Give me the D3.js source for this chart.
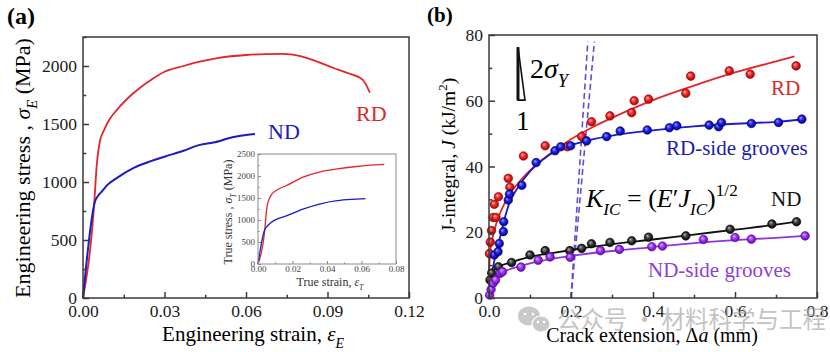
<!DOCTYPE html>
<html>
<head>
<meta charset="utf-8">
<script src="https://cdn.jsdelivr.net/npm/d3@7"></script>
<style>
  html, body { margin:0; padding:0; background:#fff; }
  svg { display:block; font-family:"Liberation Serif","Times New Roman",serif; }
</style>
</head>
<body>
<svg id="chart" width="830" height="352"></svg>
<script>
/* ---------- panel (a): engineering curves ------------------- */
const engStrainRD = [0, 0.0042, 0.005, 0.0063, 0.0075, 0.0095, 0.0124, 0.0185, 0.025, 0.03, 0.037, 0.043, 0.05, 0.06, 0.067, 0.0736, 0.08, 0.086, 0.092, 0.098, 0.103, 0.1056];
const engStressRD = [0, 840, 1130, 1360, 1434, 1530, 1620, 1765, 1880, 1950, 2000, 2037, 2070, 2095, 2103, 2105, 2085, 2040, 1985, 1935, 1880, 1770];
const engStrainND = [0, 0.0044, 0.0055, 0.0068, 0.009, 0.0124, 0.0185, 0.025, 0.03, 0.037, 0.043, 0.048, 0.055, 0.06, 0.0633];
const engStressND = [0, 830, 880, 915, 975, 1034, 1120, 1180, 1218, 1270, 1320, 1340, 1385, 1405, 1413];

/* inset: true curves */
const trueStrainRD = [0, 0.004, 0.0045, 0.0052, 0.0062, 0.0078, 0.011, 0.0168, 0.0265, 0.0362, 0.046, 0.0557, 0.065, 0.0732];
const trueStressRD = [0, 800, 1050, 1300, 1450, 1580, 1680, 1790, 1980, 2095, 2160, 2210, 2245, 2263];
const trueStrainND = [0, 0.004, 0.0049, 0.0078, 0.0168, 0.0265, 0.0362, 0.046, 0.055, 0.0623];
const trueStressND = [0, 790, 840, 950, 1100, 1254, 1369, 1440, 1470, 1484];

const engStrainTicks = [0, 0.03, 0.06, 0.09, 0.12];
const engStressTicks = [0, 500, 1000, 1500, 2000];
const trueStrainTicks = [0, 0.02, 0.04, 0.06, 0.08];
const trueStressTicks = [0, 500, 1000, 1500, 2000, 2500];

/* ---------- panel (b): J-R curves --------------------------- */
const rdDa = [0.001, 0.003, 0.006, 0.01, 0.013, 0.017, 0.023, 0.047, 0.051, 0.084, 0.137, 0.191, 0.226, 0.25, 0.295, 0.348, 0.354, 0.389, 0.48, 0.492, 0.586, 0.637, 0.749];
const rdJ  = [13.5, 17, 20.5, 24.5, 28.5, 24.5, 30.8, 36.4, 33.7, 43.2, 46.3, 46.0, 49.1, 53.6, 55.4, 56.4, 60.0, 60.5, 62.3, 67.5, 69.1, 68.1, 70.6];
const rdFitDa = [0, 0.003, 0.01, 0.02, 0.035, 0.05, 0.075, 0.1, 0.15, 0.2, 0.25, 0.3, 0.4, 0.5, 0.6, 0.7, 0.745];
const rdFitJ  = [8, 14, 19, 23.5, 28, 31.5, 35.5, 38.8, 44, 48.3, 51.8, 54.8, 60.2, 64.6, 68.6, 72, 73.5];

const rgDa = [0.013, 0.022, 0.025, 0.035, 0.036, 0.047, 0.05, 0.08, 0.115, 0.161, 0.175, 0.199, 0.238, 0.287, 0.32, 0.386, 0.44, 0.458, 0.537, 0.56, 0.567, 0.64, 0.706, 0.763];
const rgJ  = [13.1, 14.1, 16.6, 20.2, 23.2, 29.8, 31.6, 34.3, 41.2, 44.8, 46, 46.3, 47.8, 49.1, 50.8, 51.1, 51.8, 52.4, 52.6, 52.1, 53.4, 53.1, 53.4, 54.4];
const rgFitDa = [0, 0.005, 0.01, 0.02, 0.03, 0.04, 0.05, 0.07, 0.1, 0.13, 0.16, 0.2, 0.25, 0.3, 0.4, 0.5, 0.6, 0.7, 0.763];
const rgFitJ  = [2, 6, 9.5, 15, 20, 25, 29, 33.5, 38.5, 42, 44.5, 46.5, 48.2, 49.4, 51, 52.2, 53, 53.6, 54.3];

const ndDa = [0.0024, 0.0065, 0.023, 0.055, 0.1, 0.137, 0.197, 0.226, 0.25, 0.295, 0.348, 0.389, 0.48, 0.588, 0.69, 0.75];
const ndJ  = [5.5, 7.6, 9.5, 10.8, 13.1, 14.4, 14.4, 15.1, 16.5, 16.9, 17.4, 18.5, 18.9, 20.9, 22.5, 23.2];
const ndFitDa = [0, 0.005, 0.02, 0.05, 0.1, 0.15, 0.2, 0.3, 0.4, 0.5, 0.6, 0.7, 0.75];
const ndFitJ  = [4, 7.5, 9.3, 10.7, 12.5, 13.6, 14.6, 16.4, 17.8, 19.3, 20.8, 22.3, 23.2];

const nsDa = [0.0015, 0.005, 0.01, 0.016, 0.027, 0.033, 0.078, 0.12, 0.149, 0.198, 0.272, 0.318, 0.397, 0.423, 0.523, 0.60, 0.64, 0.771];
const nsJ  = [0.9, 2.6, 4.5, 5.5, 7.5, 8, 9.4, 11.5, 12.5, 12.4, 14.4, 14.8, 15.6, 15.8, 17.8, 18.4, 17.9, 18.9];
const nsFitDa = [0, 0.005, 0.01, 0.02, 0.04, 0.07, 0.1, 0.15, 0.2, 0.3, 0.4, 0.5, 0.6, 0.7, 0.771];
const nsFitJ  = [0.5, 3, 4.8, 6.6, 8.2, 9.5, 10.5, 11.8, 12.8, 14.3, 15.5, 16.7, 17.6, 18.3, 18.9];

/* blunting lines (two slopes, common offset 0.2 mm) */
const bluntDa1 = [0.2, 0.241], bluntJ1 = [0, 78];
const bluntDa2 = [0.2, 0.257], bluntJ2 = [0, 78];

const daTicks = [0, 0.2, 0.4, 0.6, 0.8];
const jTicks  = [0, 20, 40, 60, 80];

/* ---------- helpers ----------------------------------------- */
const svg = d3.select("#chart");
const zip = (xs, ys) => xs.map((x, i) => [x, ys[i]]);

// text with italic / sub / sup runs
function rich(textSel, parts, size) {
  let shift = 0;
  parts.forEach(p => {
    const target = p.sub ? size*0.32 : p.sup ? -size*0.42 : 0;
    textSel.append("tspan")
      .attr("dy", target - shift)
      .attr("font-size", (p.sub || p.sup) ? size*0.66 : size)
      .attr("font-style", p.it ? "italic" : null)
      .text(p.t);
    shift = target;
  });
  return textSel;
}

function frameAxes(g, x, y, o) {
  const [x0, x1] = x.range(), [y0, y1] = y.range();
  g.append("g").attr("transform", `translate(0,${y0})`)
    .call(d3.axisBottom(x).tickValues(o.xTicks).tickSize(-o.tick).tickPadding(o.padX).tickFormat(o.xFmt))
    .attr("font-size", o.fs).attr("font-family", null);
  g.append("g").attr("transform", `translate(${x0},0)`)
    .call(d3.axisLeft(y).tickValues(o.yTicks).tickSize(-o.tick).tickPadding(o.padY).tickFormat(o.yFmt))
    .attr("font-size", o.fs).attr("font-family", null);
  // minor ticks
  g.append("g").attr("transform", `translate(0,${y0})`)
    .call(d3.axisBottom(x).tickValues(o.xMinor).tickSize(-o.tick*0.55).tickFormat(""));
  g.append("g").attr("transform", `translate(${x0},0)`)
    .call(d3.axisLeft(y).tickValues(o.yMinor).tickSize(-o.tick*0.55).tickFormat(""));
  g.selectAll(".domain").remove();
  g.selectAll(".tick line").attr("stroke", o.col).attr("stroke-width", o.sw);
  g.selectAll(".tick text").attr("fill", o.txt || "#1a1a1a");
  g.append("rect")
    .attr("x", x0).attr("y", y1).attr("width", x1 - x0).attr("height", y0 - y1)
    .attr("fill", "none").attr("stroke", o.col).attr("stroke-width", o.sw);
}

/* ---------- panel (a) --------------------------------------- */
const gA = svg.append("g");
const xA = d3.scaleLinear([0, 0.12], [83, 409]);
const yA = d3.scaleLinear([0, 2250], [298, 37]);

const lineA = d3.line().x(d => xA(d[0])).y(d => yA(d[1])).curve(d3.curveMonotoneX);
gA.append("path").datum(zip(engStrainRD, engStressRD)).attr("d", lineA)
  .attr("fill", "none").attr("stroke", "#e3262b").attr("stroke-width", 1.8);
gA.append("path").datum(zip(engStrainND, engStressND)).attr("d", lineA)
  .attr("fill", "none").attr("stroke", "#1b1bbf").attr("stroke-width", 2);

frameAxes(gA, xA, yA, {
  xTicks: engStrainTicks, yTicks: engStressTicks,
  xMinor: [0.015, 0.045, 0.075, 0.105], yMinor: [250, 750, 1250, 1750, 2250],
  xFmt: d3.format(".2f"), yFmt: d3.format("d"),
  fs: 17.5, tick: 6, padX: 7, padY: 6, col: "#3a3a3a", sw: 1.5
});

gA.append("text").attr("x", 7).attr("y", 24)
  .attr("font-size", 24).attr("font-weight", "bold").text("(a)");

rich(gA.append("text").attr("x", 253).attr("y", 341).attr("text-anchor", "middle"),
  [{t:"Engineering strain, "}, {t:"ε", it:true}, {t:"E", it:true, sub:true}], 21);

rich(gA.append("text").attr("transform", "translate(30,168) rotate(-90)").attr("text-anchor", "middle"),
  [{t:"Engineering stress , "}, {t:"σ", it:true}, {t:"E", it:true, sub:true}, {t:" (MPa)"}], 22);

gA.append("text").attr("x", 356).attr("y", 121).attr("font-size", 22).attr("fill", "#d92a2a").text("RD");
gA.append("text").attr("x", 268).attr("y", 139).attr("font-size", 22).attr("fill", "#1b1bbf").text("ND");

/* inset */
const gI = svg.append("g");
const xI = d3.scaleLinear([0, 0.08], [258, 396]);
const yI = d3.scaleLinear([0, 2500], [264, 154]);
gI.append("rect").attr("x", 258).attr("y", 154).attr("width", 138).attr("height", 110).attr("fill", "#fff");
const lineI = d3.line().x(d => xI(d[0])).y(d => yI(d[1])).curve(d3.curveMonotoneX);
gI.append("path").datum(zip(trueStrainRD, trueStressRD)).attr("d", lineI)
  .attr("fill", "none").attr("stroke", "#e3262b").attr("stroke-width", 1.3);
gI.append("path").datum(zip(trueStrainND, trueStressND)).attr("d", lineI)
  .attr("fill", "none").attr("stroke", "#1b1bbf").attr("stroke-width", 1.3);

frameAxes(gI, xI, yI, {
  xTicks: trueStrainTicks, yTicks: trueStressTicks,
  xMinor: [0.01, 0.03, 0.05, 0.07], yMinor: [250, 750, 1250, 1750, 2250],
  xFmt: d3.format(".2f"), yFmt: d3.format("d"),
  fs: 9, tick: 3, padX: 2, padY: 3, col: "#8a8a8a", sw: 1, txt: "#444"
});

rich(gI.append("text").attr("x", 330).attr("y", 286).attr("text-anchor", "middle").attr("fill", "#333"),
  [{t:"True strain, "}, {t:"ε", it:true}, {t:"T", it:true, sub:true}], 12);
rich(gI.append("text").attr("transform", "translate(232,212) rotate(-90)").attr("text-anchor", "middle").attr("fill", "#333"),
  [{t:"True stress , "}, {t:"σ", it:true}, {t:"T", it:true, sub:true}, {t:" (MPa)"}], 12);

/* ---------- panel (b) --------------------------------------- */
const gB = svg.append("g");
const xB = d3.scaleLinear([0, 0.8], [489, 817]);
const yB = d3.scaleLinear([0, 80], [298, 35]);

const defs = svg.append("defs");
const balls = {
  red:    ["#ffb0b0", "#e82424", "#9a0000"],
  blue:   ["#9a9aff", "#1c1ce0", "#000078"],
  black:  ["#b0b0b0", "#333333", "#000000"],
  purple: ["#dcb0ff", "#9a32ee", "#55089a"]
};
Object.entries(balls).forEach(([k, c]) => {
  const rg = defs.append("radialGradient").attr("id", `ball-${k}`)
    .attr("cx", "0.5").attr("cy", "0.5").attr("r", "0.55").attr("fx", "0.35").attr("fy", "0.32");
  rg.append("stop").attr("offset", "0").attr("stop-color", c[0]);
  rg.append("stop").attr("offset", "0.5").attr("stop-color", c[1]);
  rg.append("stop").attr("offset", "1").attr("stop-color", c[2]);
});

const series = [
  {fitX: rdFitDa, fitY: rdFitJ, x: rdDa, y: rdJ, line: "#e3262b", ball: "red"},
  {fitX: rgFitDa, fitY: rgFitJ, x: rgDa, y: rgJ, line: "#1b1bc8", ball: "blue"},
  {fitX: ndFitDa, fitY: ndFitJ, x: ndDa, y: ndJ, line: "#111111", ball: "black"},
  {fitX: nsFitDa, fitY: nsFitJ, x: nsDa, y: nsJ, line: "#8f35e0", ball: "purple"}
];

const lineB = d3.line().x(d => xB(d[0])).y(d => yB(d[1])).curve(d3.curveMonotoneX);

// blunting lines
[[bluntDa1, bluntJ1], [bluntDa2, bluntJ2]].forEach(([xs, ys]) => {
  gB.append("path").datum(zip(xs, ys)).attr("d", d3.line().x(d => xB(d[0])).y(d => yB(d[1])))
    .attr("fill", "none").attr("stroke", "#5e50d4").attr("stroke-width", 1.6)
    .attr("stroke-dasharray", "6,3.5");
});

series.forEach(s => {
  gB.append("path").datum(zip(s.fitX, s.fitY)).attr("d", lineB)
    .attr("fill", "none").attr("stroke", s.line).attr("stroke-width", 1.8);
});
series.forEach(s => {
  gB.append("g").selectAll("circle")
    .data(zip(s.x, s.y))
    .enter().append("circle")
      .attr("cx", d => xB(d[0]))
      .attr("cy", d => yB(d[1]))
      .attr("r", 4.3)
      .attr("fill", `url(#ball-${s.ball})`)
      .attr("stroke", balls[s.ball][2])
      .attr("stroke-width", 0.6);
});

frameAxes(gB, xB, yB, {
  xTicks: daTicks, yTicks: jTicks,
  xMinor: [0.1, 0.3, 0.5, 0.7], yMinor: [10, 30, 50, 70],
  xFmt: d3.format(".1f"), yFmt: d3.format("d"),
  fs: 17.5, tick: 6, padX: 7, padY: 6, col: "#3a3a3a", sw: 1.5
});

gB.append("text").attr("x", 427).attr("y", 22)
  .attr("font-size", 21).attr("font-weight", "bold").text("(b)");

rich(gB.append("text").attr("x", 652).attr("y", 342).attr("text-anchor", "middle"),
  [{t:"Crack extension, Δ"}, {t:"a", it:true}, {t:" (mm)"}], 20);
rich(gB.append("text").attr("transform", "translate(455,155) rotate(-90)").attr("text-anchor", "middle"),
  [{t:"J-integral, "}, {t:"J", it:true}, {t:" (kJ/m"}, {t:"2", sup:true}, {t:")"}], 19.5);

/* slope triangle 2σY : 1 */
const tri = [[0.0707, 76.3], [0.0707, 60.2], [0.0878, 60.2]];
gB.append("polygon")
  .attr("points", tri.map(d => [xB(d[0]), yB(d[1])].join(",")).join(" "))
  .attr("fill", "#fff").attr("stroke", "#111").attr("stroke-width", 1.6);
gB.append("line")
  .attr("x1", xB(tri[0][0])).attr("y1", yB(tri[0][1]))
  .attr("x2", xB(tri[1][0])).attr("y2", yB(tri[1][1]))
  .attr("stroke", "#111").attr("stroke-width", 3);
rich(gB.append("text").attr("x", 530).attr("y", 78),
  [{t:"2"}, {t:"σ", it:true}, {t:"Y", it:true, sub:true}], 28);
gB.append("text").attr("x", 516).attr("y", 130).attr("font-size", 27).text("1");

rich(gB.append("text").attr("x", 586).attr("y", 207),
  [{t:"K", it:true}, {t:"IC", it:true, sub:true}, {t:" = ("}, {t:"E", it:true}, {t:"′"},
   {t:"J", it:true}, {t:"IC", it:true, sub:true}, {t:")"}, {t:"1/2", sup:true}], 26);

gB.append("text").attr("x", 771).attr("y", 95).attr("font-size", 21).attr("fill", "#d92a2a").text("RD");
gB.append("text").attr("x", 666).attr("y", 155).attr("font-size", 21).attr("fill", "#1b1bb0").text("RD-side grooves");
gB.append("text").attr("x", 771).attr("y", 206).attr("font-size", 21).attr("fill", "#111").text("ND");
gB.append("text").attr("x", 648).attr("y", 277).attr("font-size", 21).attr("fill", "#8e3fd8").text("ND-side grooves");

/* ---------- watermark --------------------------------------- */
const gW = svg.append("g").attr("opacity", 0.75);
gW.append("ellipse").attr("cx", 529).attr("cy", 316).attr("rx", 11).attr("ry", 9.5).attr("fill", "#b8b8b8");
gW.append("ellipse").attr("cx", 541).attr("cy", 324).attr("rx", 9).attr("ry", 8).attr("fill", "#b8b8b8")
  .attr("stroke", "#fff").attr("stroke-width", 1.2);
[[525, 314], [533, 314], [538, 322], [544, 322]].forEach(([x, y]) =>
  gW.append("circle").attr("cx", x).attr("cy", y).attr("r", 1.3).attr("fill", "#fff"));
gW.append("text").attr("x", 557).attr("y", 328)
  .attr("font-family", "'Noto Sans CJK SC', sans-serif").attr("font-size", 23.5)
  .attr("fill", "#b0b0b0").text("公众号 · 材料科学与工程");
</script>
</body>
</html>
